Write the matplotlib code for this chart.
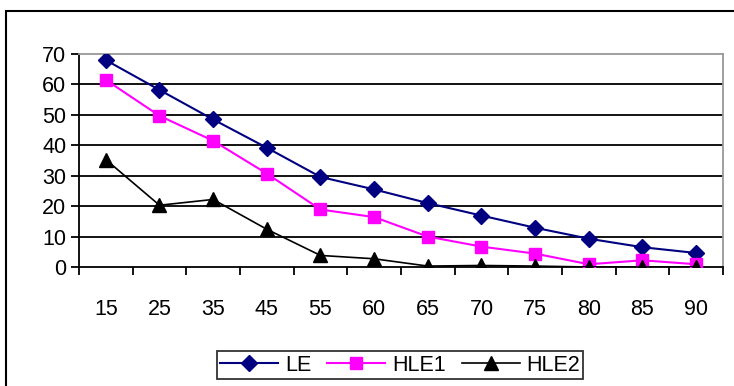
import matplotlib.pyplot as plt
from matplotlib.patches import Rectangle

plt.rcParams["font.family"] = ["Liberation Sans", "DejaVu Sans"]

ages = ["15", "25", "35", "45", "55", "60", "65", "70", "75", "80", "85", "90"]
le = [68, 58.2, 48.5, 39.2, 29.6, 25.5, 21.0, 16.9, 12.9, 9.3, 6.5, 4.6]
hle1 = [61.5, 49.7, 41.5, 30.7, 18.9, 16.4, 10.0, 6.7, 4.4, 0.9, 2.2, 0.9]
hle2 = [35.3, 20.3, 22.2, 12.4, 3.8, 2.7, 0.3, 0.5, 0.3, 0.0, 0.0, 0.0]

FS = 15.5

fig = plt.figure(figsize=(7.34, 3.86), dpi=100)
ax = fig.add_axes([0.1076, 0.3083, 0.8774, 0.5517])

x = list(range(len(ages)))
ax.plot(x, le, color="#000080", marker="D", markersize=8.5, lw=1.5, label="LE", zorder=3)
ax.plot(x, hle1, color="#FF00FF", marker="s", markersize=9, lw=1.5, label="HLE1", zorder=3)
ax.plot(x, hle2, color="black", marker="^", markersize=9.5, lw=1.2, label="HLE2", zorder=3)

ax.set_xlim(-0.5, len(ages) - 0.5)
ax.set_ylim(0, 70)
ax.set_yticks(range(0, 71, 10))
for v in range(10, 70, 10):
    ax.axhline(v, color="black", lw=1.3, zorder=1)

# category labels centred, tick marks between categories
ax.set_xticks(x)
ax.set_xticklabels(ages)
ax.tick_params(axis="x", length=0, pad=23, labelsize=FS)
ax.set_xticks([i - 0.5 for i in range(len(ages) + 1)], minor=True)
ax.tick_params(axis="x", which="minor", length=6, width=1.3, direction="out")
ax.tick_params(axis="y", length=6, width=1.3, direction="out", labelsize=FS, pad=3)

for side in ["top", "right"]:
    ax.spines[side].set_color("#999999")
    ax.spines[side].set_linewidth(1.3)
for side in ["left", "bottom"]:
    ax.spines[side].set_color("black")
    ax.spines[side].set_linewidth(1.3)

leg = fig.legend(loc="center", bbox_to_anchor=(0.545, 0.054), ncol=3, fontsize=FS,
                 frameon=True, fancybox=False, edgecolor="black", handlelength=2.7,
                 handletextpad=0.3, columnspacing=0.75, borderpad=0.15)
leg.get_frame().set_linewidth(1.3)

fig.patches.append(Rectangle((6 / 734, -0.1), 1.0, 1.1 - 11 / 386, transform=fig.transFigure,
                             fill=False, edgecolor="black", lw=1.5))

fig.savefig("out.png", dpi=100)
